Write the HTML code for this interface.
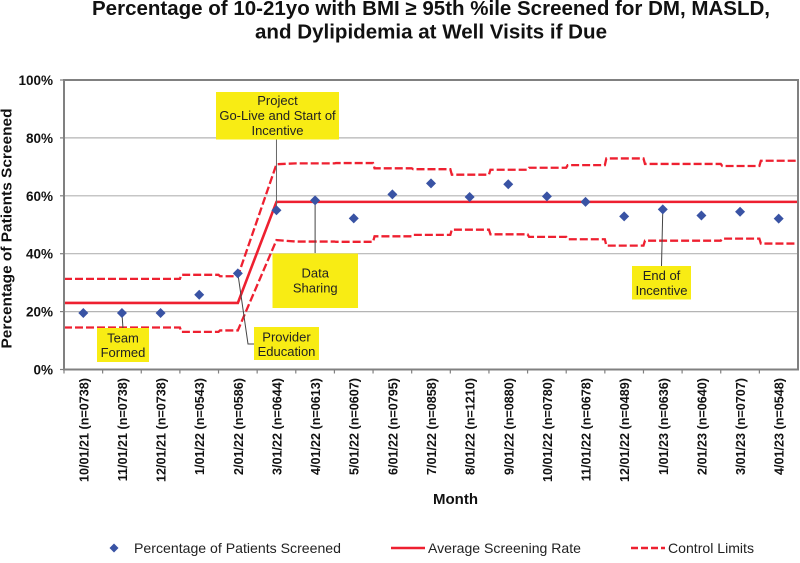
<!DOCTYPE html>
<html lang="en">
<head>
<meta charset="utf-8">
<title>Percentage of Patients Screened</title>
<style>
html,body{margin:0;padding:0;background:#fff;}
svg{display:block;font-family:"Liberation Sans",sans-serif;}
</style>
</head>
<body>
<svg id="chart" width="800" height="563" viewBox="0 0 800 563">
  <g fill="#111" font-weight="700" font-size="20.2" text-anchor="start">
    <text x="92" y="15" textLength="678" lengthAdjust="spacingAndGlyphs">Percentage of 10-21yo with BMI ≥ 95th %ile Screened for DM, MASLD,</text>
    <text x="255" y="38.5" textLength="352" lengthAdjust="spacingAndGlyphs">and Dylipidemia at Well Visits if Due</text>
  </g>
  <g id="grid"></g>
  <g id="lines"></g>
  <g id="connectors"></g>
  <g id="points"></g>
  <g id="axes"></g>
  <g id="annotations"></g>
  <text x="11.5" y="228.5" transform="rotate(-90 11.5 228.5)" font-size="15" font-weight="700" fill="#111" text-anchor="middle" textLength="240" lengthAdjust="spacingAndGlyphs">Percentage of Patients Screened</text>
  <text x="455.5" y="504" font-size="15" font-weight="700" fill="#111" text-anchor="middle">Month</text>
  <g>
    <polygon points="114,543.5 118.5,548 114,552.5 109.5,548" fill="#3953a4"></polygon>
    <text x="134" y="553" font-size="14" fill="#222" textLength="207" lengthAdjust="spacingAndGlyphs">Percentage of Patients Screened</text>
    <line x1="391" y1="548" x2="425" y2="548" stroke="#ee2030" stroke-width="2.5"></line>
    <text x="428" y="553" font-size="14" fill="#222" textLength="153" lengthAdjust="spacingAndGlyphs">Average Screening Rate</text>
    <line x1="631" y1="548" x2="665" y2="548" stroke="#ee2030" stroke-width="2.5" stroke-dasharray="7 3"></line>
    <text x="668" y="553" font-size="14" fill="#222" textLength="86" lengthAdjust="spacingAndGlyphs">Control Limits</text>
  </g>
</svg>
<script>
const categories = ["10/01/21 (n=0738)","11/01/21 (n=0738)","12/01/21 (n=0738)","1/01/22 (n=0543)","2/01/22 (n=0586)","3/01/22 (n=0644)","4/01/22 (n=0613)","5/01/22 (n=0607)","6/01/22 (n=0795)","7/01/22 (n=0858)","8/01/22 (n=1210)","9/01/22 (n=0880)","10/01/22 (n=0780)","11/01/22 (n=0678)","12/01/22 (n=0489)","1/01/23 (n=0636)","2/01/23 (n=0640)","3/01/23 (n=0707)","4/01/23 (n=0548)"];
const screened = [19.5,19.5,19.5,25.8,33.2,55,58.4,52.2,60.5,64.3,59.6,64,59.8,57.9,52.9,55.3,53.2,54.5,52.1];
const average = [23,23,23,23,23,57.9,57.9,57.9,57.9,57.9,57.9,57.9,57.9,57.9,57.9,57.9,57.9,57.9,57.9];
const upperLimit = [31.3,31.3,31.3,32.7,32.2,70.9,71.2,71.3,69.5,69.2,67.3,69,69.7,70.6,72.9,71,71,70.3,72.1];
const lowerLimit = [14.5,14.5,14.5,13,13.5,44.7,44.2,44.1,46,46.5,48.3,46.7,45.8,45,42.8,44.5,44.5,45.2,43.5];
const yTicks = [0,20,40,60,80,100];

const plotLeft = 64, plotRight = 798, plotTop = 80, plotBottom = 369.5;
const NS = "http://www.w3.org/2000/svg";
const band = (plotRight - plotLeft) / categories.length;
function xEdge(i){ return plotLeft + band * i; }
function xPos(i){ return plotLeft + band * (i + 0.5); }
function yPos(v){ return plotBottom - (plotBottom - plotTop) * v / 100; }
function make(tag, attrs, parent){
  const el = document.createElementNS(NS, tag);
  for (const k in attrs) el.setAttribute(k, attrs[k]);
  parent.appendChild(el);
  return el;
}
function stepPath(values){
  // Horizontal steps on category boundaries, with the sloped jump at the project go-live
  let d = "M" + xEdge(0) + " " + yPos(values[0]);
  for (let i = 0; i < values.length; i++) {
    if (i === 5) {
      d += " L" + xPos(5) + " " + yPos(values[5]);
    } else if (i > 0 && i !== 6) {
      d += " L" + xEdge(i) + " " + yPos(values[i-1]) + " L" + (xEdge(i) + 1.5) + " " + yPos(values[i]);
    } else if (i === 6) {
      d += " L" + xEdge(6) + " " + yPos(values[6]);
    }
    if (i === 4) d += " L" + xPos(4) + " " + yPos(values[4]);
  }
  d += " L" + xEdge(values.length) + " " + yPos(values[values.length-1]);
  return d;
}

const gridG = document.getElementById("grid");
const axesG = document.getElementById("axes");
yTicks.forEach(function(t){
  if (t !== 0 && t !== 100) {
    const g = make("line", {x1:plotLeft, x2:plotRight, y1:yPos(t), y2:yPos(t), stroke:"#b4b4b4", "stroke-width":1.2}, gridG);
    
    
  }
  const tk = make("line", {x1:plotLeft-4, x2:plotLeft, y1:yPos(t), y2:yPos(t), stroke:"#808080", "stroke-width":1.2}, axesG);
  
  
  const lb = make("text", {x:53, y:yPos(t)+5, "text-anchor":"end", "font-size":13.5, "font-weight":700, fill:"#111"}, axesG);
  lb.textContent = t + "%";
  
  
});

const frame = make("rect", {x:plotLeft, y:plotTop, width:plotRight-plotLeft, height:plotBottom-plotTop, fill:"none", stroke:"#808080", "stroke-width":2}, axesG);



categories.forEach(function(c, i){
  const tk = make("line", {x1:xEdge(i), x2:xEdge(i), y1:plotBottom, y2:plotBottom+4, stroke:"#808080", "stroke-width":1.2}, axesG);
  
  
  const x = xPos(i) + 2;
  const lb = make("text", {x:x, y:378, "text-anchor":"end", "font-size":12.6, "font-weight":700, fill:"#111", dy:"3"}, axesG);
  lb.setAttribute("transform", "rotate(-90 " + x + " 378)");
  lb.textContent = c;
  
  
});

const linesG = document.getElementById("lines");
const upperEl = make("path", {d:stepPath(upperLimit), fill:"none", stroke:"#ee2030", "stroke-width":2.3, "stroke-dasharray":"8 3"}, linesG);


const lowerEl = make("path", {d:stepPath(lowerLimit), fill:"none", stroke:"#ee2030", "stroke-width":2.3, "stroke-dasharray":"8 3"}, linesG);


const avgEl = make("path", {d:stepPath(average), fill:"none", stroke:"#ee2030", "stroke-width":2.6}, linesG);



const pointsG = document.getElementById("points");
for (let i = 0; i < screened.length; i++) {
  const x = xPos(i), y = yPos(screened[i]), r = 5;
  const p = make("polygon", {points:x+","+(y-r)+" "+(x+r)+","+y+" "+x+","+(y+r)+" "+(x-r)+","+y, fill:"#3953a4"}, pointsG);
  
  
}

const connG = document.getElementById("connectors");
[
  [xPos(5),139,xPos(5),yPos(screened[5]),"#666"],
  [xPos(6),yPos(screened[6]),xPos(6),253,"#444"],
  [xPos(1),yPos(screened[1]),xPos(1)+1,328,"#444"]
].forEach(function(s){
  const c = make("line", {x1:s[0], y1:s[1], x2:s[2], y2:s[3], stroke:s[4], "stroke-width":1}, connG);
  
  
});
const provConn = make("polyline", {points:xPos(4)+","+yPos(screened[4])+" 248,344 254,344", fill:"none", stroke:"#444", "stroke-width":1}, connG);


const endConn = make("line", {x1:xPos(15), y1:yPos(screened[15]), x2:661.5, y2:266, stroke:"#444", "stroke-width":1}, connG);



const annG = document.getElementById("annotations");
const annBoxes = [
  {n:"team-formed", b:[97,328,52,34], t:["Team","Formed"], y:[342.7,357.2]},
  {n:"provider-education", b:[254,327,65,33], t:["Provider","Education"], y:[341.7,356.2]},
  {n:"project-go-live", b:[216,92,123,47.5], t:["Project","Go-Live and Start of","Incentive"], y:[105,120,135]},
  {n:"data-sharing", b:[272.5,253.5,85.5,54.5], t:["Data","Sharing"], y:[277.7,292.7]},
  {n:"end-of-incentive", b:[632,266,59,33.5], t:["End of","Incentive"], y:[280,295]}
];
annBoxes.forEach(function(a){
  const g = make("g", {}, annG);
  
  
  const r = make("rect", {x:a.b[0], y:a.b[1], width:a.b[2], height:a.b[3], fill:"#f8ec14"}, g);
  
  
  a.t.forEach(function(line, k){
    const t = make("text", {x:a.b[0]+a.b[2]/2, y:a.y[k], "text-anchor":"middle", "font-size":13, fill:"#222"}, g);
    t.textContent = line;
    
    
  });
});
</script>
</body>
</html>
